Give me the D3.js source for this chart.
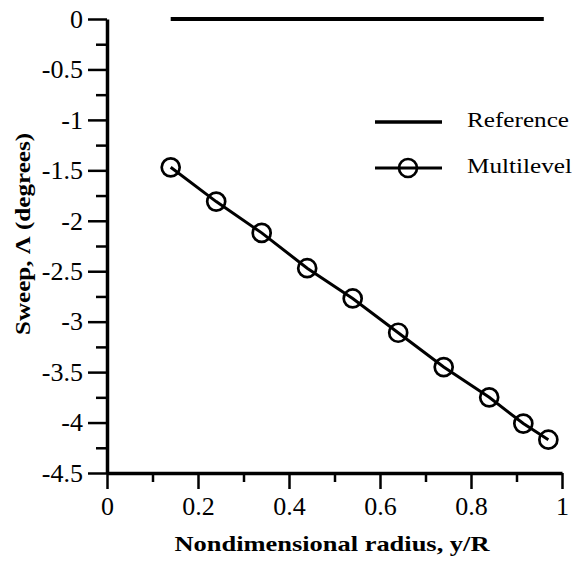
<!DOCTYPE html>
<html>
<head>
<meta charset="utf-8">
<script src="https://cdn.jsdelivr.net/npm/d3@7"></script>
<style>
  body { margin: 0; background: #fff; }
  svg { display: block; }
  .axis path, .axis line { stroke: #000; }
</style>
</head>
<body>
<svg id="chart" width="581" height="562"></svg>
<script>
// data
const multiX = [0.14, 0.24, 0.34, 0.44, 0.54, 0.64, 0.74, 0.84, 0.915, 0.97]
const multiY = [-1.47, -1.81, -2.12, -2.47, -2.77, -3.11, -3.45, -3.75, -4.01, -4.17]
const refX = [0.14, 0.96]
const refY = [0, 0]
const xTicks = [0, 0.2, 0.4, 0.6, 0.8, 1]
const xMinor = [0.1, 0.3, 0.5, 0.7, 0.9]
const yTicks = [0, -0.5, -1, -1.5, -2, -2.5, -3, -3.5, -4, -4.5]
const yMinor = [-0.25, -0.75, -1.25, -1.75, -2.25, -2.75, -3.25, -3.75, -4.25]
const legendNames = ["Reference", "Multilevel"]

const serif = "'Liberation Serif', 'Times New Roman', serif"
const svg = d3.select("#chart")

const x = d3.scaleLinear().domain([0, 1]).range([107, 562])
const y = d3.scaleLinear().domain([-4.5, 0]).range([473, 19])

const fmt = d => String(d)

// minor ticks first, so the major axis draws on top
svg.append("g")
    .attr("class", "axis")
    .attr("transform", "translate(0,473)")
    .call(d3.axisBottom(x).tickValues(xMinor).tickSize(9).tickFormat(""))
    .call(g => g.select(".domain").remove())
    .selectAll("line").attr("stroke-width", 2.5)

svg.append("g")
    .attr("class", "axis")
    .attr("transform", "translate(107,0)")
    .call(d3.axisLeft(y).tickValues(yMinor).tickSize(11).tickFormat(""))
    .call(g => g.select(".domain").remove())
    .selectAll("line").attr("stroke-width", 2.5)

const xAxis = svg.append("g")
    .attr("class", "axis")
    .attr("transform", "translate(0,473)")
    .call(d3.axisBottom(x).tickValues(xTicks).tickSize(16).tickPadding(8).tickFormat(fmt).tickSizeOuter(0))
xAxis.select(".domain").attr("stroke-width", 3.5)
xAxis.selectAll("line").attr("stroke-width", 2.5)

const yAxis = svg.append("g")
    .attr("class", "axis")
    .attr("transform", "translate(107,0)")
    .call(d3.axisLeft(y).tickValues(yTicks).tickSize(19).tickPadding(5).tickFormat(fmt).tickSizeOuter(0))
yAxis.select(".domain").attr("stroke-width", 3.5)
yAxis.selectAll("line").attr("stroke-width", 2.5)

svg.selectAll(".axis").attr("font-family", serif).attr("font-size", 26)
svg.selectAll(".axis text").attr("fill", "#000")

// axis titles
svg.append("text")
    .attr("x", 332)
    .attr("y", 551)
    .attr("text-anchor", "middle")
    .attr("textLength", 315)
    .attr("lengthAdjust", "spacingAndGlyphs")
    .style("font-family", serif)
    .style("font-weight", "bold")
    .style("font-size", "21px")
    .text("Nondimensional radius, y/R")

svg.append("text")
    .attr("transform", "translate(30,234) rotate(-90)")
    .attr("text-anchor", "middle")
    .attr("textLength", 202)
    .attr("lengthAdjust", "spacingAndGlyphs")
    .style("font-family", serif)
    .style("font-weight", "bold")
    .style("font-size", "22px")
    .text("Sweep, \u039B (degrees)")

// reference line
const line = d3.line().x(d => x(d[0])).y(d => y(d[1]))

svg.append("path")
    .datum(d3.zip(refX, refY))
    .attr("d", line)
    .attr("fill", "none")
    .attr("stroke", "#000")
    .attr("stroke-width", 4)

// multilevel line + markers
const multi = d3.zip(multiX, multiY)

svg.append("path")
    .datum(multi)
    .attr("d", line)
    .attr("fill", "none")
    .attr("stroke", "#000")
    .attr("stroke-width", 3)

svg.append("g")
    .selectAll("circle")
    .data(multi)
    .enter().append("circle")
    .attr("cx", d => x(d[0]))
    .attr("cy", d => y(d[1]))
    .attr("r", 9)
    .attr("fill", "none")
    .attr("stroke", "#000")
    .attr("stroke-width", 2.7)

// legend
const legend = svg.append("g")
    .selectAll("g")
    .data(legendNames)
    .enter().append("g")
    .attr("transform", (d, i) => "translate(375," + (122 + i * 46) + ")")

legend.append("line")
    .attr("x1", 0).attr("x2", 67)
    .attr("stroke", "#000")
    .attr("stroke-width", (d, i) => i == 0 ? 3.5 : 3)

legend.filter((d, i) => i == 1).append("circle")
    .attr("cx", 33)
    .attr("r", 9)
    .attr("fill", "none")
    .attr("stroke", "#000")
    .attr("stroke-width", 2.7)

legend.append("text")
    .attr("x", 92)
    .attr("y", 5)
    .attr("textLength", (d, i) => i == 0 ? 102 : 105)
    .attr("lengthAdjust", "spacingAndGlyphs")
    .style("font-family", serif)
    .style("font-size", "22px")
    .text(d => d)
</script>
</body>
</html>
